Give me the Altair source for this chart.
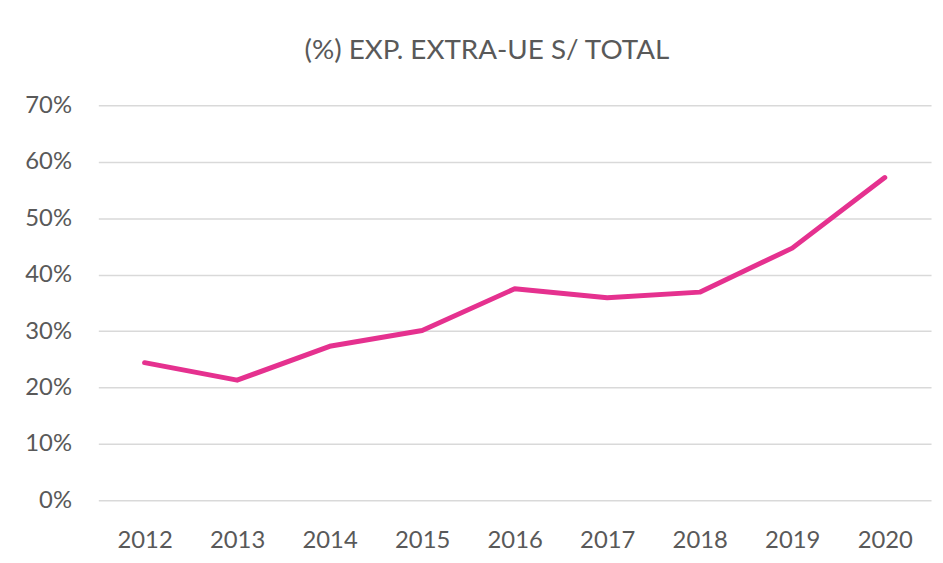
import altair as alt
import pandas as pd

years = ["2012", "2013", "2014", "2015", "2016", "2017", "2018", "2019", "2020"]
share = [0.244, 0.213, 0.273, 0.301, 0.375, 0.359, 0.369, 0.447, 0.572]
y_ticks = [0, 0.1, 0.2, 0.3, 0.4, 0.5, 0.6, 0.7]

df = pd.DataFrame({"year": years, "share": share})

FONT = "Lato"
GRAY = "#595959"

chart = (
    alt.Chart(df)
    .mark_line(color="#E5318F", strokeWidth=5, strokeCap="round", strokeJoin="round")
    .encode(
        x=alt.X("year:O", title=None, sort=years,
                axis=alt.Axis(labelAngle=0, domain=False, ticks=False, grid=False,
                              labelPadding=28, labelFontSize=24, labelColor=GRAY,
                              labelFont=FONT)),
        y=alt.Y("share:Q", title=None,
                scale=alt.Scale(domain=[0, 0.7], nice=False),
                axis=alt.Axis(values=y_ticks, format=".0%", domain=False, ticks=False,
                              labelPadding=27, labelFontSize=24, labelColor=GRAY,
                              labelFont=FONT, gridColor="#D9D9D9", gridWidth=1.5)),
    )
    .properties(
        width=839,
        height=398,
        title=alt.TitleParams("(%) EXP. EXTRA-UE S/ TOTAL", fontSize=28, font=FONT,
                              fontWeight="normal", color=GRAY, anchor="middle",
                              dx=-28, offset=29),
        autosize=alt.AutoSizeParams(type="none"),
        padding={"left": 91, "top": 96, "right": 4, "bottom": 58},
    )
    .configure(background="white")
    .configure_view(strokeWidth=0)
)

chart.save("out.html", embed_options={"renderer": "svg", "actions": False})
